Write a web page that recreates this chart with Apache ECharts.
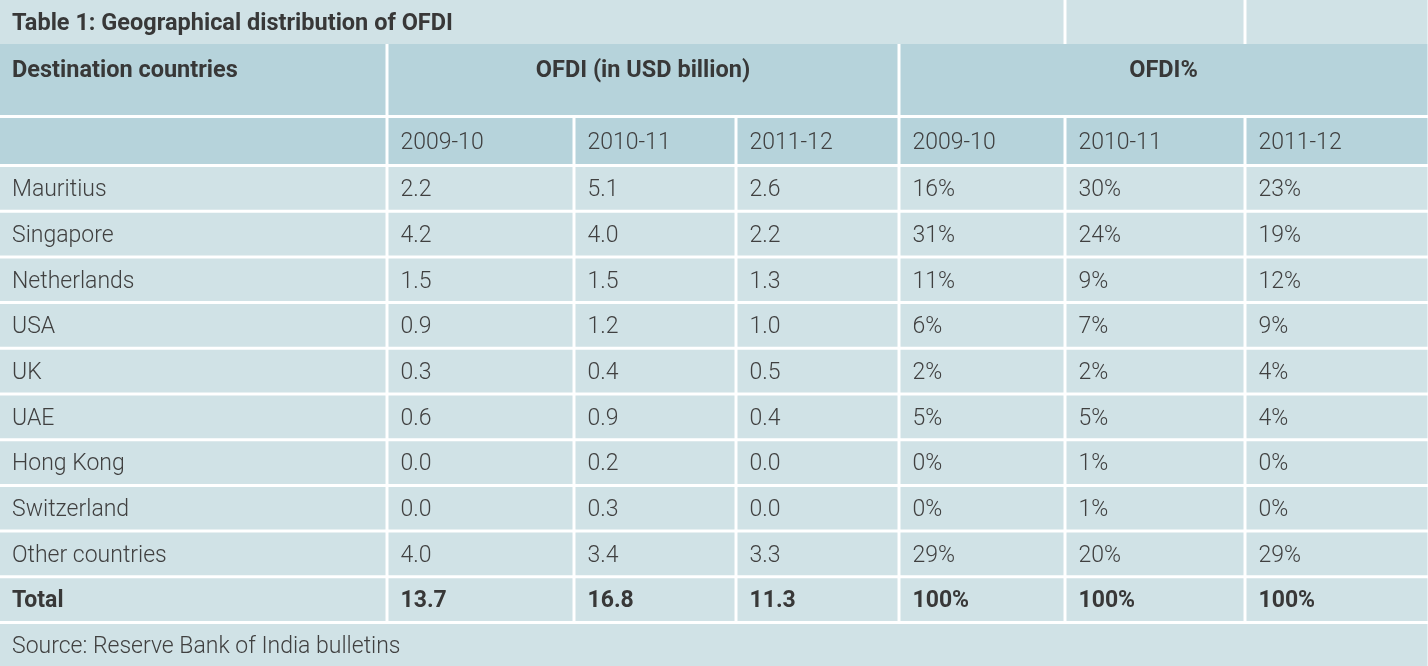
<!DOCTYPE html>
<html>
<head>
<meta charset="utf-8">
<script src="https://cdn.jsdelivr.net/npm/echarts@6/dist/echarts.min.js"></script>
<style>html,body{margin:0;padding:0;background:#fff}#c{width:1428px;height:666px}</style>
</head>
<body>
<div id="c"></div>
<script>
// ---- data ----
const title = 'Table 1: Geographical distribution of OFDI';
const source = 'Source: Reserve Bank of India bulletins';
const groupHeaders = ['Destination countries', 'OFDI (in USD billion)', 'OFDI%'];
const years = ['2009-10', '2010-11', '2011-12'];
const countries = ['Mauritius', 'Singapore', 'Netherlands', 'USA', 'UK', 'UAE', 'Hong Kong', 'Switzerland', 'Other countries'];
const ofdi0910 = [2.2, 4.2, 1.5, 0.9, 0.3, 0.6, 0.0, 0.0, 4.0];
const ofdi1011 = [5.1, 4.0, 1.5, 1.2, 0.4, 0.9, 0.2, 0.3, 3.4];
const ofdi1112 = [2.6, 2.2, 1.3, 1.0, 0.5, 0.4, 0.0, 0.0, 3.3];
const pct0910 = [16, 31, 11, 6, 2, 5, 0, 0, 29];
const pct1011 = [30, 24, 9, 7, 2, 5, 1, 1, 20];
const pct1112 = [23, 19, 12, 9, 4, 4, 0, 0, 29];
const totalLabel = 'Total';
const ofdiTotals = [13.7, 16.8, 11.3];
const pctTotals = [100, 100, 100];

// ---- layout (not data) ----
const colEdges = [0, 387, 574, 736, 899, 1065, 1245, 1428];
const titleRow = [0, 44];
const head1Row = [44, 116.5];
const head2Row = [116.5, 165.5];
const bodyTop = 165.5, rowH = 45.7;
const W = 1428, H = 666;
const LIGHT = '#d0e2e6', DARK = '#b6d3db', TXT = '#404040', TXTB = '#383838';
const FONT = 'Roboto, "Open Sans", sans-serif';

const cells = [];
function cell(c0, c1, r, text, opt) {
  cells.push(Object.assign({ x0: colEdges[c0], x1: colEdges[c1], y0: r[0], y1: r[1], text: text,
    bg: LIGHT, bold: false, size: 23, align: 'left', valign: 'middle', noTopGap: false, noBottomGap: false }, opt || {}));
}
// title row
cell(0, 5, titleRow, title, { bold: true, size: 23.5, noBottomGap: true });
cell(5, 6, titleRow, '', { noBottomGap: true });
cell(6, 7, titleRow, '', { noBottomGap: true });
// header rows
cell(0, 1, head1Row, groupHeaders[0], { bg: DARK, bold: true, size: 23.5, valign: 'top', noTopGap: true });
cell(1, 4, head1Row, groupHeaders[1], { bg: DARK, bold: true, size: 23.5, valign: 'top', align: 'center', noTopGap: true });
cell(4, 7, head1Row, groupHeaders[2], { bg: DARK, bold: true, size: 23.5, valign: 'top', align: 'center', noTopGap: true });
cell(0, 1, head2Row, '', { bg: DARK });
for (let k = 0; k < 6; k++) cell(k + 1, k + 2, head2Row, years[k % 3], { bg: DARK });
// body
const ofdiCols = [ofdi0910, ofdi1011, ofdi1112];
const pctCols = [pct0910, pct1011, pct1112];
countries.forEach((name, i) => {
  const r = [bodyTop + rowH * i, bodyTop + rowH * (i + 1)];
  cell(0, 1, r, name);
  ofdiCols.forEach((arr, k) => cell(k + 1, k + 2, r, arr[i].toFixed(1)));
  pctCols.forEach((arr, k) => cell(k + 4, k + 5, r, arr[i] + '%'));
});
const tr = [bodyTop + rowH * countries.length, bodyTop + rowH * (countries.length + 1)];
cell(0, 1, tr, totalLabel, { bold: true });
ofdiTotals.forEach((v, k) => cell(k + 1, k + 2, tr, v.toFixed(1), { bold: true }));
pctTotals.forEach((v, k) => cell(k + 4, k + 5, tr, v + '%', { bold: true }));
cell(0, 7, [tr[1], H], source);

const chart = echarts.init(document.getElementById('c'));
const G = 1.5;
chart.setOption({
  backgroundColor: '#ffffff',
  animation: false,
  grid: { left: 0, right: 0, top: 0, bottom: 0 },
  xAxis: { type: 'value', min: 0, max: W, show: false },
  yAxis: { type: 'value', min: 0, max: H, inverse: true, show: false },
  series: [{
    type: 'custom',
    data: cells.map(c => [c.x0, c.y0, c.x1, c.y1]),
    renderItem: function (params, api) {
      const c = cells[params.dataIndex];
      const p0 = api.coord([api.value(0), api.value(1)]);
      const p1 = api.coord([api.value(2), api.value(3)]);
      const l = p0[0] + (c.x0 === 0 ? 0 : G);
      const r = p1[0] - (c.x1 === W ? 0.5 : G);
      const t = p0[1] + (c.y0 === 0 || c.noTopGap ? 0 : G);
      const b = p1[1] - (c.y1 === H || c.noBottomGap ? 0 : G);
      const children = [{ type: 'rect', shape: { x: l, y: t, width: r - l, height: b - t }, style: { fill: c.bg } }];
      if (c.text) {
        const tx = c.align === 'center' ? (p0[0] + p1[0]) / 2 : p0[0] + 12 + (c.x0 === 0 ? 0 : 1.5);
        const ty = (c.valign === 'top' ? t + 25 : (t + b) / 2) + 2;
        children.push({ type: 'text', style: { text: c.text, x: tx, y: ty, fill: c.bold ? TXTB : TXT,
          font: (c.bold ? 'bold ' : '300 ') + c.size + 'px ' + FONT, align: c.align, verticalAlign: 'middle' } });
      }
      return { type: 'group', children: children };
    }
  }]
});
</script>
</body>
</html>
